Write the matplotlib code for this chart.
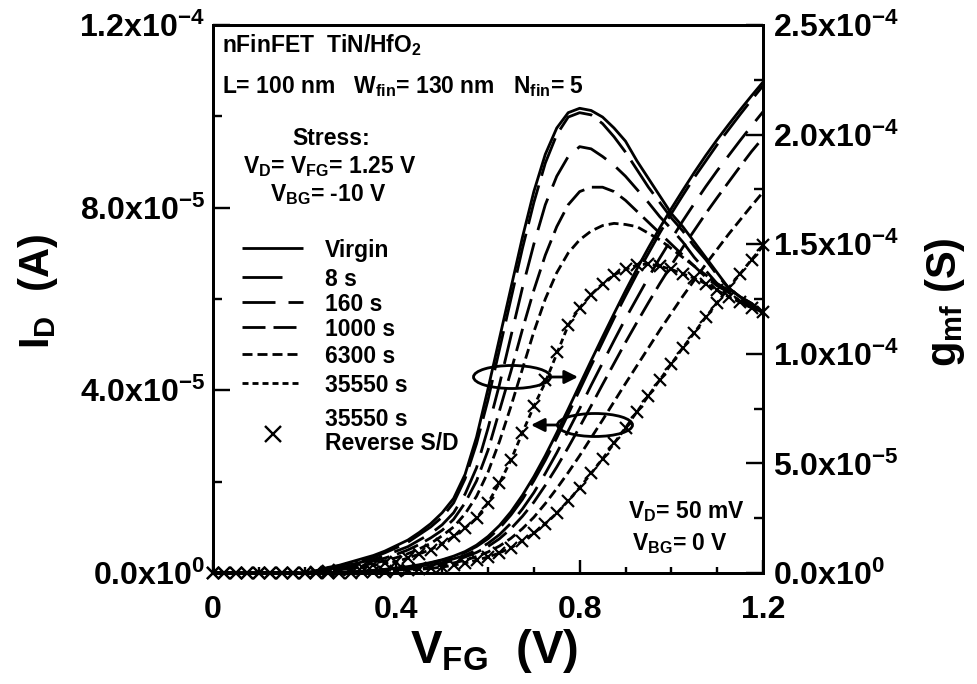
import numpy as np
import matplotlib
matplotlib.use('Agg')
import matplotlib.pyplot as plt
from matplotlib.patches import Ellipse
from matplotlib.ticker import MultipleLocator, FixedLocator, FixedFormatter

plt.rcParams['font.family'] = ['Liberation Sans', 'DejaVu Sans']
plt.rcParams['font.weight'] = 'bold'
plt.rcParams['mathtext.fontset'] = 'custom'
plt.rcParams['mathtext.rm'] = 'Liberation Sans:bold'
plt.rcParams['mathtext.bf'] = 'Liberation Sans:bold'
plt.rcParams['mathtext.it'] = 'Liberation Sans:bold'
plt.rcParams['mathtext.sf'] = 'Liberation Sans:bold'
plt.rcParams['mathtext.default'] = 'bf'
plt.rcParams['lines.scale_dashes'] = False

# ---------------- data ----------------
# front-gate sweep V_FG (V), 25 mV step
v_fg = np.linspace(0.0, 1.2, 49)

# drain current I_D in units of 1e-5 A
id_virgin = [0, 0, 0, 0, 0, 0, 0, 0, 0,
             0.00, 0.01, 0.01, 0.02, 0.04, 0.06, 0.08, 0.11, 0.14, 0.18,
             0.23, 0.29, 0.37, 0.47, 0.61, 0.80, 1.04, 1.34, 1.70, 2.11,
             2.57, 3.07, 3.59, 4.12, 4.65, 5.17, 5.68, 6.18, 6.66, 7.12,
             7.56, 7.98, 8.38, 8.77, 9.14, 9.49, 9.82, 10.14, 10.45, 10.75]
id_8s = [0, 0, 0, 0, 0, 0, 0, 0, 0,
         0.00, 0.01, 0.01, 0.02, 0.03, 0.05, 0.07, 0.10, 0.13, 0.17,
         0.22, 0.28, 0.35, 0.45, 0.58, 0.75, 0.98, 1.27, 1.61, 2.02,
         2.47, 2.96, 3.48, 4.01, 4.54, 5.06, 5.58, 6.07, 6.55, 7.00,
         7.45, 7.87, 8.27, 8.66, 9.02, 9.38, 9.71, 10.04, 10.36, 10.67]
id_160s = [0, 0, 0, 0, 0, 0, 0, 0, 0,
           0.00, 0.00, 0.01, 0.02, 0.03, 0.04, 0.06, 0.09, 0.11, 0.15,
           0.19, 0.24, 0.31, 0.39, 0.50, 0.65, 0.84, 1.09, 1.40, 1.76,
           2.18, 2.63, 3.11, 3.60, 4.11, 4.60, 5.09, 5.57, 6.02, 6.47,
           6.90, 7.31, 7.71, 8.09, 8.46, 8.81, 9.14, 9.47, 9.79, 10.10]
id_1000s = [0, 0, 0, 0, 0, 0, 0, 0, 0,
            0.00, 0.00, 0.01, 0.02, 0.03, 0.04, 0.05, 0.07, 0.10, 0.12,
            0.17, 0.22, 0.27, 0.35, 0.45, 0.58, 0.75, 0.97, 1.24, 1.55,
            1.92, 2.32, 2.75, 3.20, 3.66, 4.13, 4.59, 5.05, 5.49, 5.92,
            6.34, 6.74, 7.13, 7.50, 7.87, 8.22, 8.56, 8.90, 9.23, 9.53]
id_6300s = [0, 0, 0, 0, 0, 0, 0, 0, 0,
            0.00, 0.00, 0.01, 0.01, 0.02, 0.03, 0.04, 0.06, 0.08, 0.10,
            0.13, 0.17, 0.22, 0.28, 0.36, 0.46, 0.59, 0.76, 0.97, 1.22,
            1.52, 1.85, 2.20, 2.57, 2.96, 3.35, 3.75, 4.15, 4.54, 4.93,
            5.32, 5.69, 6.06, 6.41, 6.76, 7.09, 7.42, 7.73, 8.04, 8.34]
id_35550s = [0, 0, 0, 0, 0, 0, 0, 0, 0,
             0.00, 0.00, 0.01, 0.01, 0.02, 0.02, 0.03, 0.05, 0.06, 0.08,
             0.10, 0.13, 0.17, 0.22, 0.28, 0.35, 0.44, 0.55, 0.70, 0.87,
             1.08, 1.31, 1.58, 1.87, 2.18, 2.50, 2.84, 3.18, 3.53, 3.88,
             4.23, 4.58, 4.93, 5.26, 5.60, 5.92, 6.24, 6.55, 6.86, 7.16]
id_reverse = [0, 0, 0, 0, 0, 0, 0, 0, 0,
              0.00, 0.00, 0.01, 0.01, 0.02, 0.02, 0.03, 0.05, 0.06, 0.08,
              0.10, 0.13, 0.17, 0.22, 0.28, 0.35, 0.44, 0.55, 0.70, 0.87,
              1.08, 1.31, 1.58, 1.87, 2.18, 2.50, 2.84, 3.18, 3.53, 3.88,
              4.23, 4.58, 4.93, 5.26, 5.60, 5.92, 6.24, 6.55, 6.86, 7.18]

# front-gate transconductance g_mf in units of 1e-5 S
gm_virgin = [0, 0, 0, 0, 0, 0, 0, 0, 0,
             0.10, 0.25, 0.35, 0.50, 0.65, 0.80, 1.00, 1.25, 1.50, 1.85,
             2.25, 2.75, 3.40, 4.50, 6.20, 8.40, 10.7, 13.0, 15.3, 17.4,
             19.1, 20.3, 21.0, 21.2, 21.1, 20.8, 20.3, 19.7, 18.8, 18.0,
             17.2, 16.4, 15.8, 15.1, 14.4, 13.7, 13.0, 12.6, 12.3, 11.9]
gm_8s = [0, 0, 0, 0, 0, 0, 0, 0, 0,
         0.10, 0.22, 0.32, 0.44, 0.58, 0.72, 0.92, 1.15, 1.40, 1.75,
         2.10, 2.55, 3.20, 4.30, 5.90, 7.90, 10.2, 12.5, 14.8, 16.9,
         18.7, 20.0, 20.8, 21.0, 20.9, 20.5, 19.9, 19.2, 18.4, 17.6,
         16.9, 16.2, 15.6, 14.9, 14.3, 13.6, 13.0, 12.6, 12.3, 11.9]
gm_160s = [0, 0, 0, 0, 0, 0, 0, 0, 0,
           0.08, 0.18, 0.28, 0.38, 0.50, 0.62, 0.80, 1.00, 1.20, 1.50,
           1.80, 2.20, 2.75, 3.60, 4.80, 6.60, 8.60, 10.8, 13.0, 15.0,
           16.8, 18.1, 19.0, 19.45, 19.35, 19.0, 18.6, 18.1, 17.5, 16.9,
           16.25, 15.7, 15.1, 14.4, 13.8, 13.2, 12.9, 12.5, 12.2, 11.85]
gm_1000s = [0, 0, 0, 0, 0, 0, 0, 0, 0,
            0.06, 0.14, 0.22, 0.32, 0.42, 0.54, 0.68, 0.85, 1.05, 1.30,
            1.60, 1.95, 2.45, 3.20, 4.20, 5.60, 7.40, 9.20, 11.1, 12.9,
            14.5, 15.8, 16.8, 17.4, 17.6, 17.6, 17.4, 17.0, 16.5, 16.0,
            15.5, 15.0, 14.5, 14.0, 13.5, 13.1, 12.8, 12.4, 12.1, 11.8]
gm_6300s = [0, 0, 0, 0, 0, 0, 0, 0, 0,
            0.05, 0.10, 0.18, 0.26, 0.34, 0.44, 0.56, 0.70, 0.88, 1.10,
            1.35, 1.70, 2.10, 2.70, 3.50, 4.60, 6.00, 7.60, 9.30, 11.0,
            12.5, 13.7, 14.6, 15.2, 15.6, 15.85, 15.95, 15.9, 15.8, 15.5,
            15.2, 14.8, 14.4, 14.0, 13.6, 13.2, 12.8, 12.4, 12.1, 11.8]
gm_35550s = [0, 0, 0, 0, 0, 0, 0, 0, 0,
             0.05, 0.10, 0.15, 0.20, 0.27, 0.35, 0.45, 0.52, 0.68, 0.87,
             1.07, 1.34, 1.67, 2.05, 2.50, 3.20, 4.10, 5.15, 6.40, 7.60,
             8.70, 10.0, 11.3, 12.1, 12.7, 13.2, 13.6, 13.85, 14.05, 14.1,
             14.0, 13.85, 13.65, 13.45, 13.2, 12.9, 12.6, 12.35, 12.1, 11.9]
gm_reverse = [0, 0, 0, 0, 0, 0, 0, 0, 0,
              0.05, 0.10, 0.15, 0.20, 0.27, 0.35, 0.45, 0.52, 0.68, 0.87,
              1.07, 1.34, 1.67, 2.05, 2.50, 3.20, 4.10, 5.15, 6.40, 7.60,
              8.80, 10.1, 11.3, 12.1, 12.7, 13.2, 13.6, 13.85, 14.05, 14.1,
              14.0, 13.85, 13.65, 13.45, 13.2, 12.9, 12.6, 12.35, 12.1, 11.9]

series_labels = ['Virgin', '8 s', '160 s', '1000 s', '6300 s', '35550 s']
id_series = [id_virgin, id_8s, id_160s, id_1000s, id_6300s, id_35550s]
gm_series = [gm_virgin, gm_8s, gm_160s, gm_1000s, gm_6300s, gm_35550s]

x_ticks = [0, 0.4, 0.8, 1.2]
x_ticklabels = ['0', '0.4', '0.8', '1.2']
yl_ticks = [0, 4e-5, 8e-5, 1.2e-4]
yl_ticklabels = ['0.0x10$^{0}$', '4.0x10$^{-5}$', '8.0x10$^{-5}$', '1.2x10$^{-4}$']
yr_ticks = [0, 5e-5, 1e-4, 1.5e-4, 2e-4, 2.5e-4]
yr_ticklabels = ['0.0x10$^{0}$', '5.0x10$^{-5}$', '1.0x10$^{-4}$', '1.5x10$^{-4}$',
                 '2.0x10$^{-4}$', '2.5x10$^{-4}$']

# ---------------- styles ----------------
PX = 0.72  # points per pixel at dpi 100
LW = 2.8 * PX
styles = {
    'Virgin': '-',
    '8 s': (0, (40 * PX, 10 * PX)),
    '160 s': (0, (33 * PX, 13 * PX)),
    '1000 s': (0, (23 * PX, 8 * PX)),
    '6300 s': (0, (10 * PX, 5 * PX)),
    '35550 s': (0, (6 * PX, 4 * PX)),
}

W, H = 977, 684
fig = plt.figure(figsize=(W / 100, H / 100), dpi=100)
L, R, T, B = 213, 763, 25, 573
ax = fig.add_axes([L / W, 1 - B / H, (R - L) / W, (B - T) / H])
ax2 = ax.twinx()

v = np.asarray(v_fg)
for lab, idv, gmv in zip(series_labels, id_series, gm_series):
    ax.plot(v, np.asarray(idv) * 1e-5, color='k', lw=LW, linestyle=styles[lab],
            solid_capstyle='butt', dash_capstyle='butt')
    ax2.plot(v, np.asarray(gmv) * 1e-5, color='k', lw=LW, linestyle=styles[lab],
             solid_capstyle='butt', dash_capstyle='butt')

ax.plot(v, np.asarray(id_reverse) * 1e-5, linestyle='none', marker='x',
        markersize=12 * PX, mew=2.2 * PX, color='k', clip_on=False)
ax2.plot(v, np.asarray(gm_reverse) * 1e-5, linestyle='none', marker='x',
         markersize=12 * PX, mew=2.2 * PX, color='k', clip_on=False)

ax.set_xlim(0, 1.2)
ax.set_ylim(0, 1.2e-4)
ax2.set_ylim(0, 2.5e-4)

ax.xaxis.set_major_locator(FixedLocator(x_ticks))
ax.xaxis.set_major_formatter(FixedFormatter(x_ticklabels))
ax.xaxis.set_minor_locator(MultipleLocator(0.1))
ax.yaxis.set_major_locator(FixedLocator(yl_ticks))
ax.yaxis.set_major_formatter(FixedFormatter(yl_ticklabels))
ax.yaxis.set_minor_locator(MultipleLocator(2e-5))
ax2.yaxis.set_major_locator(FixedLocator(yr_ticks))
ax2.yaxis.set_major_formatter(FixedFormatter(yr_ticklabels))
ax2.yaxis.set_minor_locator(MultipleLocator(2.5e-5))

TFS = 23
ax.tick_params(axis='x', which='major', direction='in', length=13 * PX, width=2.4 * PX,
               pad=16, labelsize=TFS, top=False)
ax.tick_params(axis='x', which='minor', direction='in', length=6 * PX, width=2.4 * PX, top=False)
ax.tick_params(axis='y', which='major', direction='in', length=17 * PX, width=2.4 * PX,
               pad=6, labelsize=TFS, right=False)
ax.tick_params(axis='y', which='minor', direction='in', length=9 * PX, width=2.4 * PX, right=False)
ax2.tick_params(axis='y', which='major', direction='in', length=17 * PX, width=2.4 * PX,
                pad=7, labelsize=TFS)
ax2.tick_params(axis='y', which='minor', direction='in', length=9 * PX, width=2.4 * PX)
for a in (ax, ax2):
    for s in a.spines.values():
        s.set_linewidth(3 * PX)

# ---------------- annotations ----------------
def fx(px):
    return (px - L) / (R - L)

def fy(py):
    return (B - py) / (B - T)

AFS = 16.5
ax2.text(fx(222), fy(52), 'nFinFET  TiN/HfO$_{2}$', transform=ax.transAxes,
         fontsize=AFS, ha='left', va='baseline')
ax2.text(fx(222), fy(93), 'L= 100 nm   W$_{fin}$= 130 nm   N$_{fin}$= 5',
         transform=ax.transAxes, fontsize=AFS, ha='left', va='baseline')
ax2.text(fx(331), fy(145), 'Stress:', transform=ax.transAxes, fontsize=AFS,
         ha='center', va='baseline')
ax2.text(fx(330), fy(173), 'V$_{D}$= V$_{FG}$= 1.25 V', transform=ax.transAxes,
         fontsize=AFS, ha='center', va='baseline')
ax2.text(fx(328), fy(201), 'V$_{BG}$= -10 V', transform=ax.transAxes,
         fontsize=AFS, ha='center', va='baseline')
ax2.text(fx(686), fy(518), 'V$_{D}$= 50 mV', transform=ax.transAxes,
         fontsize=AFS, ha='center', va='baseline')
ax2.text(fx(680), fy(550), 'V$_{BG}$= 0 V', transform=ax.transAxes,
         fontsize=AFS, ha='center', va='baseline')

# legend drawn by hand
leg_rows = [('Virgin', 248, 303), ('8 s', 277, 285), ('160 s', 302, 303),
            ('1000 s', 327, 297), ('6300 s', 354, 300), ('35550 s', 383, 300)]
for lab, py, xend in leg_rows:
    ax2.plot([fx(242), fx(xend)], [fy(py), fy(py)], transform=ax.transAxes,
             color='k', lw=LW, linestyle=styles[lab], clip_on=False,
             solid_capstyle='butt', dash_capstyle='butt')
    ax2.text(fx(325), fy(py), lab, transform=ax.transAxes, fontsize=AFS,
             ha='left', va='center_baseline')
ax2.plot([fx(273)], [fy(434)], transform=ax.transAxes, marker='x', color='k',
         markersize=16 * PX, mew=2.4 * PX, linestyle='none')
ax2.text(fx(325), fy(417), '35550 s', transform=ax.transAxes, fontsize=AFS,
         ha='left', va='center_baseline')
ax2.text(fx(325), fy(441), 'Reverse S/D', transform=ax.transAxes, fontsize=AFS,
         ha='left', va='center_baseline')

# ellipses and arrows
ax2.add_patch(Ellipse((fx(512), fy(377)), 77 / (R - L), 23 / (B - T),
                      transform=ax.transAxes, fill=False, lw=LW, ec='k'))
ax2.annotate('', xy=(fx(578), fy(377)), xytext=(fx(550), fy(377)),
             xycoords=ax.transAxes, textcoords=ax.transAxes,
             arrowprops=dict(arrowstyle='-|>', lw=LW, color='k', mutation_scale=20,
                             shrinkA=0, shrinkB=0))
ax2.add_patch(Ellipse((fx(595), fy(425)), 75 / (R - L), 23 / (B - T),
                      transform=ax.transAxes, fill=False, lw=LW, ec='k'))
ax2.annotate('', xy=(fx(531), fy(425)), xytext=(fx(558), fy(425)),
             xycoords=ax.transAxes, textcoords=ax.transAxes,
             arrowprops=dict(arrowstyle='-|>', lw=LW, color='k', mutation_scale=20,
                             shrinkA=0, shrinkB=0))

# axis titles
fig.text(494 / W, 1 - 663 / H, 'V$_{FG}$  (V)', fontsize=34, ha='center', va='baseline')
fig.text(38 / W, 1 - 292 / H, 'I$_{D}$  (A)', fontsize=30, rotation=90,
         ha='center', va='center')
fig.text(945 / W, 1 - 302 / H, 'g$_{mf}$ (S)', fontsize=30, rotation=90,
         ha='center', va='center')

fig.savefig('out.png', dpi=100)
